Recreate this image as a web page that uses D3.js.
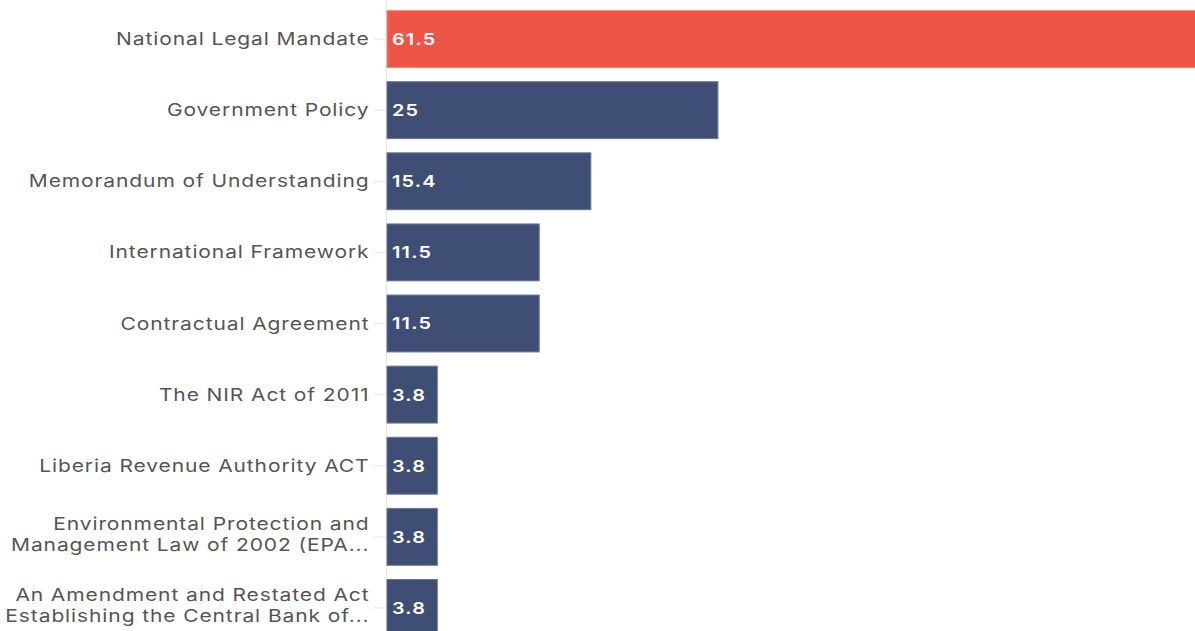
<!DOCTYPE html>
<html>
<head>
<meta charset="utf-8">
<script src="https://cdn.jsdelivr.net/npm/d3@7"></script>
<style>
  html, body { margin: 0; padding: 0; background: #fff; overflow: hidden; }
  svg { display: block; }
  .cat text { font-family: "Inter", "Open Sans", sans-serif; font-size: 17.5px; fill: #555; letter-spacing: 0.75px; }
  .val { font-family: "Inter", "Open Sans", sans-serif; font-size: 16.5px; font-weight: 600; fill: #fff; letter-spacing: 1px; }
</style>
</head>
<body>
<svg id="chart" width="1195" height="631"></svg>
<script>
// Legal basis categories (two-line labels split with "|")
const categories = [
  "National Legal Mandate",
  "Government Policy",
  "Memorandum of Understanding",
  "International Framework",
  "Contractual Agreement",
  "The NIR Act of 2011",
  "Liberia Revenue Authority ACT",
  "Environmental Protection and|Management Law of 2002 (EPA...",
  "An Amendment and Restated Act|Establishing the Central Bank of..."
];
const values = [61.5, 25, 15.4, 11.5, 11.5, 3.8, 3.8, 3.8, 3.8];
const highlight = [true, false, false, false, false, false, false, false, false];

const W = 1195, H = 631;
const left = 387;
const stretch = 1.2; // wide set lettering
const svg = d3.select("#chart");

const x = d3.scaleLinear().domain([0, 61.5]).range([left, 1201]);
const y = d3.scaleBand().domain(categories).range([3.5, 643.5]).paddingInner(0.2).paddingOuter(0.1);

const data = categories.map((c, i) => ({ c, v: values[i], hi: highlight[i] }));

// baseline
svg.append("line")
  .attr("x1", left - 0.5).attr("x2", left - 0.5)
  .attr("y1", 0).attr("y2", H)
  .attr("stroke", "#e6e6e6").attr("stroke-width", 1);

// bars
svg.append("g").selectAll("rect").data(data).join("rect")
  .attr("x", x(0))
  .attr("y", d => y(d.c))
  .attr("width", d => x(d.v) - x(0))
  .attr("height", y.bandwidth())
  .attr("fill", d => d.hi ? "#ee5545" : "#3f4e75")
  .attr("stroke", d => d.hi ? "#f3857a" : "#6a7594")
  .attr("stroke-width", 1);

// category axis
const yAxis = d3.axisLeft(y).tickSize(12).tickPadding(6);
const g = svg.append("g").attr("class", "cat").attr("transform", `translate(${left - 1},0)`).call(yAxis);
g.select(".domain").remove();
g.selectAll(".tick line").attr("stroke", "#e6e6e6");
g.selectAll(".tick text").each(function(d) {
  const t = d3.select(this);
  const lines = d.split("|");
  const lh = 21;
  const shift = lines.length > 1 ? 4 : 6;
  t.text(null).attr("dy", null).attr("x", null)
    .attr("transform", `scale(${stretch},1)`);
  lines.forEach((ln, i) => {
    t.append("tspan")
      .attr("x", -16.5 / stretch)
      .attr("dy", i === 0 ? (-(lines.length - 1) * lh / 2 + shift) : lh)
      .text(ln);
  });
});

// value labels
svg.append("g").selectAll("text").data(data).join("text")
  .attr("class", "val")
  .attr("transform", d => `translate(${x(0) + 5},${y(d.c) + y.bandwidth() / 2}) scale(${stretch},1)`)
  .attr("dy", "0.36em")
  .text(d => d.v);
</script>
</body>
</html>
